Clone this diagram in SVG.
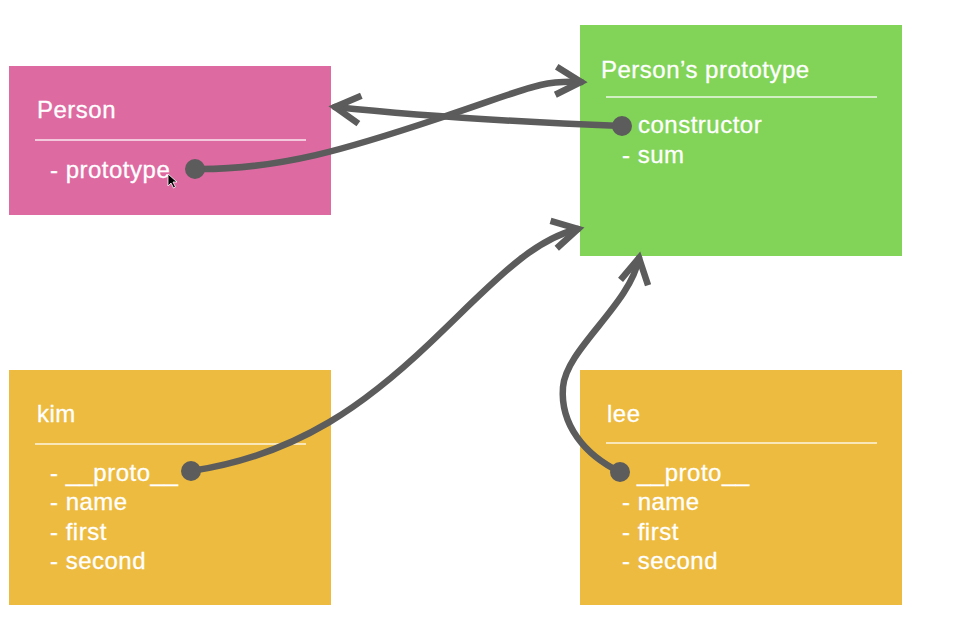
<svg xmlns="http://www.w3.org/2000/svg" width="958" height="642" viewBox="0 0 958 642">
<style>
.box-pink{fill:#DE6AA2}
.box-green{fill:#82D458}
.box-yellow{fill:#EDBB40}
.t{font-family:"Liberation Sans",Arial,Helvetica,sans-serif;font-size:24px;fill:#fff;stroke:#fff;stroke-width:0.3;letter-spacing:0.5px}
.sep{stroke:#fff;stroke-width:1.5;stroke-opacity:0.85}
.conn{fill:none;stroke:#5C5C5C;stroke-width:6.5;stroke-linecap:round}
.dot{fill:#5C5C5C}
</style>
<defs>
<marker id="chev" markerUnits="userSpaceOnUse" orient="auto" markerWidth="60" markerHeight="60" viewBox="-30 -30 60 60" refX="0" refY="0" overflow="visible">
<path d="M-25,-14 L0,0 L-25,14" fill="none" stroke="#5C5C5C" stroke-width="6.5" stroke-linejoin="miter"/>
</marker>
</defs>
<rect width="958" height="642" fill="#fff"/>
<g id="node-person">
<rect class="box-pink" x="9" y="66" width="322" height="149"/>
<text class="t" x="37" y="118">Person</text>
<line class="sep" x1="35" y1="140" x2="306" y2="140"/>
<text class="t" x="50" y="178">- prototype</text>
</g>
<g id="node-proto">
<rect class="box-green" x="580" y="25" width="322" height="231"/>
<text class="t" x="601" y="78">Person’s prototype</text>
<line class="sep" x1="606" y1="97" x2="877" y2="97"/>
<text class="t" x="638" y="133">constructor</text>
<text class="t" x="622" y="163">- sum</text>
</g>
<g id="node-kim">
<rect class="box-yellow" x="9" y="370" width="322" height="235"/>
<text class="t" x="37" y="422">kim</text>
<line class="sep" x1="35" y1="444" x2="306" y2="444"/>
<text class="t" x="50" y="481">- __proto__</text>
<text class="t" x="50" y="510">- name</text>
<text class="t" x="50" y="540">- first</text>
<text class="t" x="50" y="569">- second</text>
</g>
<g id="node-lee">
<rect class="box-yellow" x="580" y="370" width="322" height="235"/>
<text class="t" x="607" y="422">lee</text>
<line class="sep" x1="606" y1="443" x2="877" y2="443"/>
<text class="t" x="637" y="481">__proto__</text>
<text class="t" x="622" y="510">- name</text>
<text class="t" x="622" y="540">- first</text>
<text class="t" x="622" y="569">- second</text>
</g>
<g id="connectors">
<path class="conn" d="M195,169 C280,170 350,148 440,118 S540,80 581,82" marker-end="url(#chev)"/>
<path class="conn" d="M622,126 C520,122 420,116 335,107" marker-end="url(#chev)"/>
<path class="conn" d="M191,471 C300,455 370,400 430,343 S530,240 578,229" marker-end="url(#chev)"/>
<path class="conn" d="M620,472 C585,455 560,425 563,387 S630,305 639,258" marker-end="url(#chev)"/>
<circle class="dot" cx="195" cy="169" r="10"/>
<circle class="dot" cx="622" cy="126" r="10"/>
<circle class="dot" cx="191" cy="471" r="10"/>
<circle class="dot" cx="620" cy="472" r="10"/>
</g>
<path d="M168,174 L168,186 L171,183 L173.5,188 L175.5,187 L173,182 L177,182 Z" fill="#000" stroke="#fff" stroke-width="0.8"/>
</svg>
